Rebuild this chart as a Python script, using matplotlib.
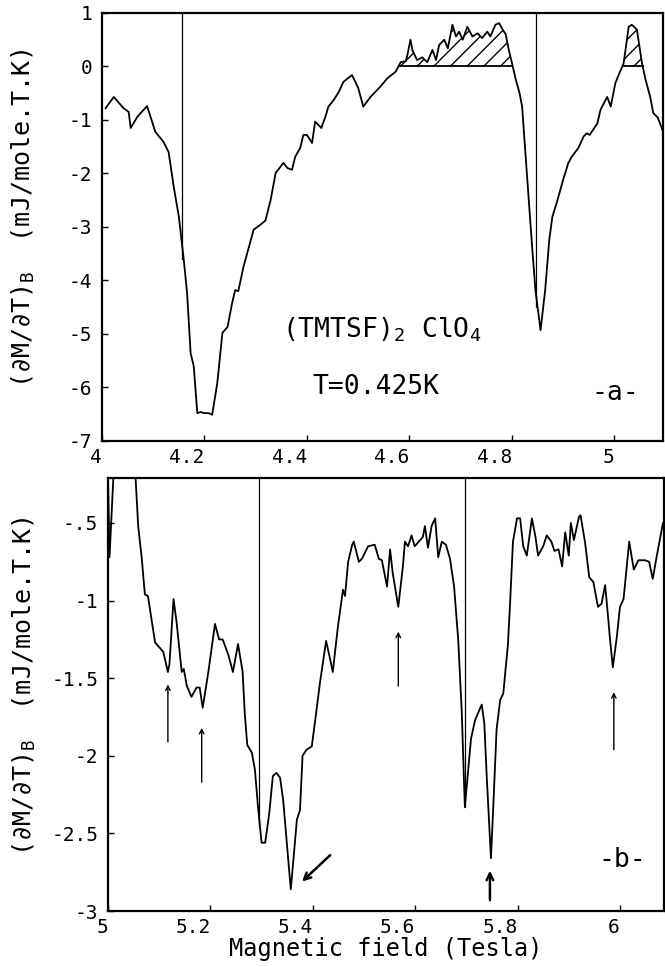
import matplotlib
matplotlib.use("Agg")
import matplotlib.pyplot as plt

plt.rcParams['font.family'] = ['DejaVu Sans Mono', 'DejaVu Sans']
plt.rcParams['mathtext.fontset'] = 'custom'
plt.rcParams['mathtext.rm'] = 'DejaVu Sans Mono'
plt.rcParams['mathtext.it'] = 'DejaVu Sans Mono'
plt.rcParams['hatch.linewidth'] = 1.0

# panel a : T = 0.425 K, 4 - 5.1 T
field_a = [4.007, 4.023, 4.042, 4.052, 4.056, 4.069, 4.088, 4.104, 4.12, 4.13,
           4.14, 4.15, 4.159, 4.166, 4.173, 4.179, 4.186, 4.192, 4.2, 4.208,
           4.215, 4.225, 4.235, 4.245, 4.254, 4.26, 4.266, 4.276, 4.296, 4.309,
           4.319, 4.329, 4.339, 4.348, 4.354, 4.362, 4.371, 4.377, 4.387, 4.393,
           4.4, 4.41, 4.416, 4.428, 4.436, 4.442, 4.452, 4.462, 4.471, 4.488,
           4.5, 4.51, 4.524, 4.543, 4.557, 4.573, 4.583, 4.593, 4.596, 4.602,
           4.606, 4.615, 4.625, 4.635, 4.645, 4.652, 4.658, 4.668, 4.675, 4.684,
           4.691, 4.697, 4.704, 4.713, 4.723, 4.733, 4.742, 4.752, 4.758, 4.768,
           4.775, 4.782, 4.788, 4.794, 4.801, 4.807, 4.815, 4.82, 4.826, 4.833,
           4.84, 4.846, 4.856, 4.865, 4.873, 4.879, 4.889, 4.9, 4.91, 4.916,
           4.93, 4.94, 4.946, 4.952, 4.967, 4.973, 4.986, 4.993, 5.002, 5.011,
           5.018, 5.028, 5.034, 5.044, 5.054, 5.061, 5.07, 5.076, 5.085, 5.094]
dmdt_a = [-0.78, -0.57, -0.78, -0.85, -1.15, -0.94, -0.74, -1.22, -1.41, -1.6,
          -2.25, -2.81, -3.56, -4.23, -5.36, -5.6, -6.48, -6.46, -6.48, -6.48,
          -6.51, -5.92, -4.98, -4.87, -4.42, -4.18, -4.2, -3.75, -3.05, -2.96,
          -2.88, -2.5, -1.99, -1.88, -1.8, -1.9, -1.93, -1.69, -1.52, -1.28,
          -1.28, -1.43, -1.03, -1.15, -0.94, -0.75, -0.63, -0.48, -0.29, -0.16,
          -0.4, -0.75, -0.57, -0.38, -0.22, -0.1, 0.08, 0.1, 0.21, 0.5,
          0.3, 0.12, 0.17, 0.08, 0.31, 0.12, 0.4, 0.5, 0.34, 0.78,
          0.56, 0.65, 0.5, 0.74, 0.56, 0.62, 0.53, 0.65, 0.56, 0.78,
          0.81, 0.69, 0.6, 0.31, 0.03, -0.22, -0.5, -0.75, -1.56, -2.5,
          -3.43, -4.18, -4.93, -4.18, -3.24, -2.81, -2.5, -2.12, -1.81, -1.7,
          -1.52, -1.31, -1.25, -1.28, -1.06, -0.81, -0.57, -0.75, -0.31, -0.1,
          0.05, 0.74, 0.78, 0.69, 0.06, -0.25, -0.57, -0.87, -0.96, -1.19]

# panel b : 5 - 6.1 T
field_b = [5.0, 5.003, 5.012, 5.052, 5.059, 5.066, 5.072, 5.078, 5.085, 5.092,
           5.1, 5.108, 5.117, 5.12, 5.128, 5.134, 5.144, 5.148, 5.154, 5.163,
           5.173, 5.179, 5.185, 5.196, 5.209, 5.217, 5.224, 5.235, 5.244, 5.254,
           5.263, 5.267, 5.272, 5.281, 5.287, 5.293, 5.3, 5.307, 5.315, 5.322,
           5.329, 5.336, 5.342, 5.35, 5.357, 5.36, 5.369, 5.375, 5.38, 5.388,
           5.398, 5.404, 5.414, 5.426, 5.434, 5.439, 5.449, 5.459, 5.463, 5.469,
           5.477, 5.48, 5.49, 5.496, 5.508, 5.521, 5.529, 5.535, 5.545, 5.551,
           5.556, 5.567, 5.576, 5.58, 5.586, 5.593, 5.599, 5.607, 5.615, 5.619,
           5.625, 5.632, 5.639, 5.645, 5.652, 5.66, 5.668, 5.676, 5.684, 5.691,
           5.697, 5.702, 5.709, 5.717, 5.73, 5.735, 5.74, 5.748, 5.752, 5.759,
           5.766, 5.772, 5.781, 5.785, 5.791, 5.799, 5.805, 5.811, 5.818, 5.828,
           5.835, 5.84, 5.85, 5.857, 5.866, 5.872, 5.88, 5.887, 5.893, 5.9,
           5.904, 5.91, 5.92, 5.923, 5.932, 5.94, 5.948, 5.957, 5.964, 5.971,
           5.975, 5.98, 5.986, 5.994, 6.0, 6.007, 6.018, 6.027, 6.036, 6.049,
           6.057, 6.064, 6.072, 6.084]
dmdt_b = [-0.2, -0.72, -0.1, -0.1, -0.52, -0.73, -0.96, -0.97, -1.12, -1.27,
          -1.3, -1.33, -1.46, -1.41, -0.99, -1.14, -1.46, -1.44, -1.55, -1.62,
          -1.56, -1.56, -1.69, -1.46, -1.15, -1.25, -1.25, -1.35, -1.46, -1.28,
          -1.46, -1.72, -1.93, -1.98, -2.09, -2.33, -2.56, -2.56, -2.37, -2.13,
          -2.11, -2.14, -2.28, -2.59, -2.86, -2.75, -2.41, -2.35, -2.0, -1.96,
          -1.94, -1.79, -1.53, -1.26, -1.38, -1.46, -1.17, -0.93, -0.97, -0.75,
          -0.64, -0.62, -0.75, -0.73, -0.65, -0.64, -0.73, -0.74, -0.91, -0.67,
          -0.82, -1.04, -0.78, -0.62, -0.65, -0.58, -0.65, -0.62, -0.59, -0.52,
          -0.66, -0.52, -0.47, -0.72, -0.62, -0.64, -0.73, -0.91, -1.25, -1.72,
          -2.33, -2.15, -1.89, -1.77, -1.67, -1.79, -2.15, -2.66, -2.37, -1.83,
          -1.64, -1.6, -1.29, -1.04, -0.62, -0.47, -0.47, -0.65, -0.71, -0.47,
          -0.59, -0.71, -0.65, -0.58, -0.62, -0.68, -0.67, -0.78, -0.56, -0.71,
          -0.5, -0.61, -0.46, -0.45, -0.63, -0.85, -0.88, -1.04, -1.02, -0.9,
          -1.04, -1.23, -1.43, -1.23, -1.04, -0.99, -0.62, -0.8, -0.74, -0.74,
          -0.75, -0.86, -0.71, -0.5]

# vertical sweep lines (field, lowest value)
vlines_a = [(4.157, -3.6), (4.848, -4.5)]
vlines_b = [(5.295, -2.45), (5.697, -2.33)]

# hatched areas above zero in panel a
hatch_ranges = [(4.58, 4.801), (5.018, 5.055)]

# arrows in panel b: (x_tail, y_tail, x_head, y_head, thick)
arrows_b = [(5.117, -1.91, 5.117, -1.54, False),
            (5.183, -2.17, 5.183, -1.82, False),
            (5.434, -2.64, 5.379, -2.81, True),
            (5.567, -1.55, 5.567, -1.2, False),
            (5.746, -2.93, 5.746, -2.74, True),
            (5.988, -1.96, 5.988, -1.59, False)]

xticks_a = [4, 4.2, 4.4, 4.6, 4.8, 5]
xticklabels_a = ['4', '4.2', '4.4', '4.6', '4.8', '5']
yticks_a = [-7, -6, -5, -4, -3, -2, -1, 0, 1]
yticklabels_a = ['-7', '-6', '-5', '-4', '-3', '-2', '-1', '0', '1']
xticks_b = [5, 5.2, 5.4, 5.6, 5.8, 6]
xticklabels_b = ['5', '5.2', '5.4', '5.6', '5.8', '6']
yticks_b = [-3, -2.5, -2, -1.5, -1, -0.5]
yticklabels_b = ['-3', '-2.5', '-2', '-1.5', '-1', '-.5']

ylab = '(\u2202M/\u2202T)$_\\mathrm{B}$  (mJ/mole.T.K)'

fig = plt.figure(figsize=(6.65, 9.67), dpi=100)
ax1 = fig.add_axes([0.1534, 0.5440, 0.8436, 0.4426])
ax2 = fig.add_axes([0.1624, 0.0579, 0.8361, 0.4478])


def style(ax, xt, xtl, yt, ytl):
    ax.set_xticks(xt)
    ax.set_xticklabels(xtl, ha='right')
    ax.set_yticks(yt)
    ax.set_yticklabels(ytl)
    ax.tick_params(direction='in', length=4, width=1, labelsize=14, pad=7)
    ax.tick_params(axis='x', pad=5)
    for s in ax.spines.values():
        s.set_linewidth(1.6)


# panel a
ax1.plot(field_a, dmdt_a, color='black', lw=1.3)
for xv, ylow in vlines_a:
    ax1.plot([xv, xv], [ylow, 1], color='black', lw=0.9)
for x0, x1 in hatch_ranges:
    xs = [x for x in field_a if x0 <= x <= x1]
    ys = [y for x, y in zip(field_a, dmdt_a) if x0 <= x <= x1]
    xs = [x0] + xs + [x1]
    ys = [0] + ys + [0]
    ax1.fill_between(xs, 0, ys, where=[y >= 0 for y in ys], facecolor='none',
                     edgecolor='black', hatch='//', lw=0, interpolate=True)
    ax1.plot([x0, x1], [0, 0], color='black', lw=1.3)
ax1.set_xlim(4, 5.095)
ax1.set_ylim(-7, 1)
style(ax1, xticks_a, xticklabels_a, yticks_a, yticklabels_a)
ax1.set_ylabel(ylab, fontsize=18)
ax1.yaxis.set_label_coords(-0.116, 0.52)
ax1.text(4.352, -4.93, '(TMTSF)$_2$ ClO$_4$', fontsize=19, va='center')
ax1.text(4.41, -6.0, 'T=0.425K', fontsize=19, va='center')
ax1.text(5.002, -6.1, '-a-', fontsize=19, va='center', ha='center')

# panel b
ax2.plot(field_b, dmdt_b, color='black', lw=1.3)
for xv, ylow in vlines_b:
    ax2.plot([xv, xv], [ylow, -0.2], color='black', lw=0.9)
for xt, yt, xh, yh, thick in arrows_b:
    ax2.annotate('', xy=(xh, yh), xytext=(xt, yt),
                 arrowprops=dict(arrowstyle='->', color='black',
                                 lw=1.8 if thick else 1.0,
                                 mutation_scale=12 if thick else 8,
                                 shrinkA=0, shrinkB=0))
ax2.set_xlim(5, 6.086)
ax2.set_ylim(-3, -0.21)
style(ax2, xticks_b, xticklabels_b, yticks_b, yticklabels_b)
ax2.set_ylabel(ylab, fontsize=18)
ax2.yaxis.set_label_coords(-0.126, 0.52)
ax2.set_xlabel('Magnetic field (Tesla)', fontsize=17, labelpad=0)
ax2.text(6.004, -2.67, '-b-', fontsize=19, va='center', ha='center')

fig.savefig('out.png', dpi=100)
